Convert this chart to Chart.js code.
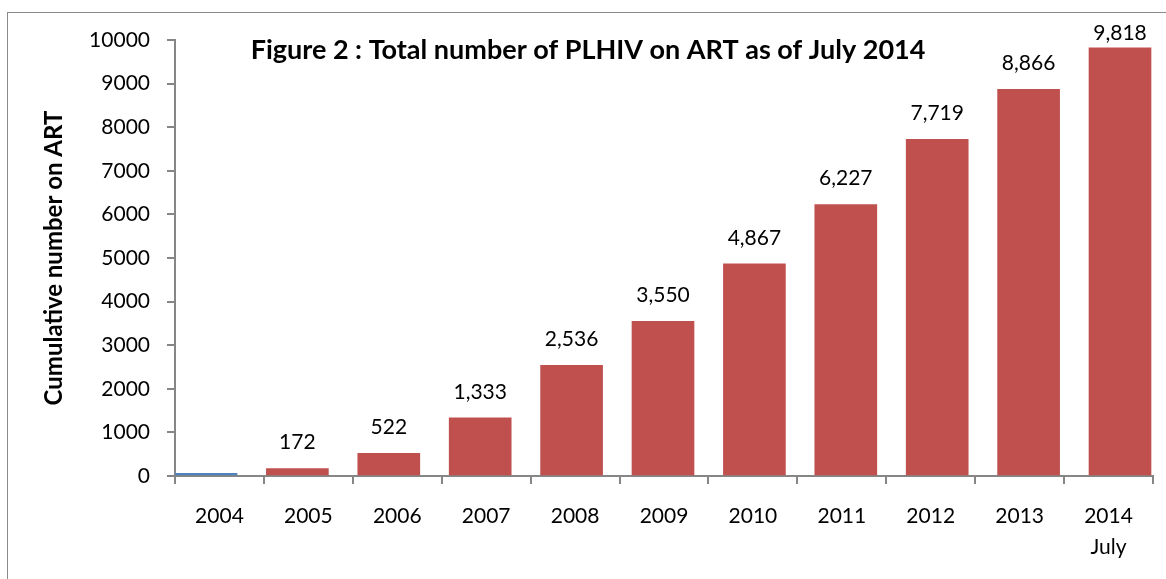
<!DOCTYPE html>
<html>
<head>
<meta charset="utf-8">
<script src="https://cdn.jsdelivr.net/npm/chart.js@4.4.1/dist/chart.umd.min.js"></script>
<style>
  html, body { margin: 0; padding: 0; background: #fff; overflow: hidden; }
  #frame { position: absolute; left: 7px; top: 12px; width: 1300px; height: 700px; border: 1px solid #8a8a8a; }
  #chart { position: absolute; left: 0; top: 0; }
</style>
</head>
<body>
<div id="frame"></div>
<canvas id="chart" width="1166" height="579"></canvas>
<script>
// Categories (last one carries a second line)
const years = ['2004', '2005', '2006', '2007', '2008', '2009', '2010', '2011', '2012', '2013', ['2014', 'July']];

// 2004 is a separate (blue, unlabelled) series in the original
const firstYearValues = [60, null, null, null, null, null, null, null, null, null, null];
const cumulativeOnArt = [null, 172, 522, 1333, 2536, 3550, 4867, 6227, 7719, 8866, 9818];

const yMin = 0;
const yMax = 10000;
const yStep = 1000;

const chartTitle = 'Figure 2 : Total number of PLHIV on ART as of July 2014';
const yAxisTitle = 'Cumulative number on ART';

const FONT = 'Lato, "Open Sans", sans-serif';
const AXIS_GREY = '#868686';

// In the original the bars run from the y axis to the right end of the
// x axis, slightly wider spaced than the category labels, so they go on a
// hidden linear axis indexed by category number.
const toPoints = (arr) => arr.map((v, i) => ({ x: i, y: v }));

// Value labels above the red bars (kept inside the plot like Excel does)
const valueLabels = {
  id: 'valueLabels',
  afterDatasetsDraw(chart) {
    const ctx  = chart.ctx;
    const meta = chart.getDatasetMeta(1);
    ctx.save();
    ctx.font = '21px ' + FONT;
    ctx.fillStyle = '#000';
    ctx.textAlign = 'center';
    ctx.textBaseline = 'middle';
    meta.data.forEach((bar, i) => {
      const v = cumulativeOnArt[i];
      if (v == null) return;
      const y = Math.max(bar.y - 26, chart.chartArea.top - 7);
      ctx.fillText(v.toLocaleString('en-US'), bar.x, y);
    });
    ctx.restore();
  },
};

// Title sits inside the plot area, centred on the outer frame
const overlayTitle = {
  id: 'overlayTitle',
  afterDraw(chart) {
    const ctx = chart.ctx;
    ctx.save();
    ctx.font = 'bold 27px ' + FONT;
    ctx.fillStyle = '#000';
    ctx.textAlign = 'center';
    ctx.textBaseline = 'middle';
    ctx.fillText(chartTitle, 588, 50);
    ctx.restore();
  },
};

const tickFont = { family: FONT, size: 21, lineHeight: 1.5 };

new Chart(document.getElementById('chart'), {
  type: 'bar',
  data: {
    labels: years,
    datasets: [
      {
        label: '2004',
        data: toPoints(firstYearValues),
        backgroundColor: '#4F81BD',
        xAxisID: 'xb',
        stack: 'main',
        barThickness: 62,
      },
      {
        label: 'Cumulative',
        data: toPoints(cumulativeOnArt),
        backgroundColor: '#C0504D',
        xAxisID: 'xb',
        stack: 'main',
        barThickness: 62,
      },
    ],
  },
  options: {
    responsive: false,
    animation: false,
    layout: { padding: { top: 40, right: 13, left: 0, bottom: 0 } },
    plugins: {
      legend: { display: false },
      tooltip: { enabled: false },
    },
    scales: {
      x: {
        type: 'category',
        offset: true,
        grid: { drawOnChartArea: false, offset: true, color: AXIS_GREY, lineWidth: 2, tickLength: 8 },
        border: { color: AXIS_GREY, width: 2 },
        ticks: { color: '#000', font: tickFont, padding: 16, maxRotation: 0, autoSkip: false },
        afterFit(scale) { scale.height = 103; },
      },
      xb: {
        type: 'linear',
        display: false,
        min: -0.339,
        max: 10.361,
        offset: false,
      },
      y: {
        min: yMin,
        max: yMax,
        grid: { drawOnChartArea: false, color: AXIS_GREY, lineWidth: 2, tickLength: 8 },
        border: { color: AXIS_GREY, width: 2 },
        ticks: {
          stepSize: yStep,
          color: '#000',
          font: tickFont,
          padding: 17,
          callback: (v) => String(v),
        },
        title: {
          display: true,
          text: yAxisTitle,
          color: '#000',
          font: { family: FONT, size: 24, weight: 'bold' },
          padding: { top: 40, bottom: 0 },
        },
        afterFit(scale) { scale.width = 175; },
      },
    },
  },
  plugins: [valueLabels, overlayTitle],
});
</script>
</body>
</html>
